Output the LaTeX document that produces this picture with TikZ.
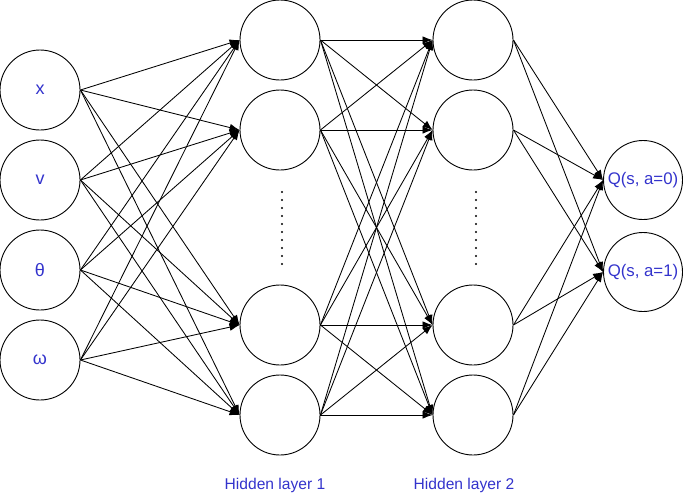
\documentclass[tikz,border=0pt]{standalone}
\usepackage{fontspec}
\setmainfont{Liberation Sans}
\usetikzlibrary{arrows.meta}
\definecolor{labelblue}{RGB}{51,51,204}
\begin{document}
\begin{tikzpicture}[x=1pt,y=-1pt,
  neuron/.style={circle,draw,line width=0.9pt,minimum size=80pt,inner sep=0pt},
  conn/.style={-{Latex[length=10pt,width=7.5pt]},line width=0.85pt},
  inlbl/.style={text=labelblue,font=\fontsize{18}{21}\selectfont},
  lbl/.style={text=labelblue,font=\fontsize{15.6}{18}\selectfont},
  qlbl/.style={text=labelblue,font=\fontsize{16.8}{19}\selectfont}]
\useasboundingbox (0,0) rectangle (684,501);
% input layer
\node[neuron,inlbl] (i1) at (40,90) {x};
\node[neuron,inlbl] (i2) at (40,180) {v};
\node[neuron,inlbl] (i3) at (40,270) {θ};
\node[neuron,inlbl] (i4) at (40,360) {ω};
% hidden layer 1
\node[neuron] (a1) at (280,40) {};
\node[neuron] (a2) at (280,130) {};
\node[neuron] (a3) at (280,325) {};
\node[neuron] (a4) at (280,415) {};
% hidden layer 2
\node[neuron] (b1) at (473,40) {};
\node[neuron] (b2) at (473,130) {};
\node[neuron] (b3) at (473,325) {};
\node[neuron] (b4) at (473,415) {};
% output layer
\node[neuron,minimum size=79pt,qlbl] (o1) at (643,180) {Q(s, a=0)};
\node[neuron,minimum size=79pt,qlbl] (o2) at (643,272) {Q(s, a=1)};
% connections
\foreach \a in {1,...,4}{
  \foreach \b in {1,...,4}{
    \draw[conn] (i\a.east) -- (a\b.west);
    \draw[conn] (a\a.east) -- (b\b.west);
  }
  \foreach \b in {1,2}{
    \draw[conn] (b\a.east) -- (o\b.west);
  }
}
% ellipsis dots
\foreach \k in {0,...,9}{
  \fill (282,192+8*\k) circle (1.1pt);
  \fill (476,192+8*\k) circle (1.1pt);
}
% layer labels
\node[lbl] (l1) at (275,485) {Hidden layer 1};
\node[lbl] (l2) at (464,485) {Hidden layer 2};
\end{tikzpicture}
\end{document}
